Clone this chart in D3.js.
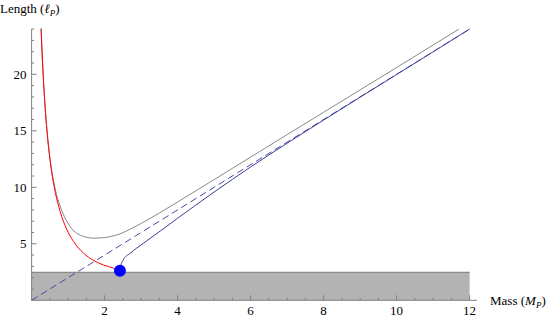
<!DOCTYPE html>
<html>
<head>
  <meta charset="utf-8">
  <script src="https://d3js.org/d3.v7.min.js"></script>
  <style>
    body { margin: 0; background: #ffffff; }
    svg { display: block; }
    text { font-family: 'Liberation Serif', 'DejaVu Serif', serif; fill: #000; }
  </style>
</head>
<body>
  <div id="chart"></div>

  <script>
    // values (mass in M_P, length in l_P)
    const grayMass = [0.26, 0.3, 0.37, 0.45, 0.55, 0.65, 0.78, 0.9, 1.05, 1.2, 1.33, 1.5, 1.69, 1.9, 2.15, 2.4, 2.61, 3.0, 3.5, 4.0, 4.5, 5.0, 6.0, 7.0, 8.0, 9.0, 10.0, 11.0, 11.7];
    const grayLength = [24.1, 21.1, 17.2, 14.1, 11.5, 9.8, 8.35, 7.4, 6.55, 6.02, 5.76, 5.58, 5.5, 5.52, 5.63, 5.85, 6.15, 6.8, 7.72, 8.7, 9.69, 10.68, 12.67, 14.66, 16.64, 18.62, 20.6, 22.59, 23.98];

    const redMass = [0.26, 0.3, 0.37, 0.45, 0.55, 0.65, 0.78, 0.96, 1.15, 1.42, 1.69, 1.97, 2.24, 2.42];
    const redLength = [24.0, 21.0, 17.1, 14.0, 11.36, 9.54, 7.88, 6.3, 5.2, 4.18, 3.55, 3.12, 2.85, 2.62];

    const blueMass = [2.42, 2.44, 2.51, 2.7, 3.06, 3.52, 4.0, 4.5, 5.0, 5.5, 6.0, 7.0, 8.0, 9.0, 10.0, 11.0, 12.0];
    const blueLength = [2.62, 3.0, 3.57, 4.16, 5.04, 6.12, 7.26, 8.43, 9.58, 10.7, 11.8, 13.9, 15.95, 17.97, 19.98, 21.99, 24.0];

    const dashMass = [0, 12];
    const dashLength = [0, 24];

    const bandMass = [0, 12];
    const bandTop = 2.48;
    const dot = { mass: 2.42, length: 2.62 };

    const xTicks = [2, 4, 6, 8, 10, 12];
    const yTicks = [5, 10, 15, 20];

    const width = 550, height = 318;
    const serif = "'Liberation Serif', 'DejaVu Serif', serif";

    const svg = d3.select("#chart")
      .append("svg")
      .attr("width", width)
      .attr("height", height);

    const x = d3.scaleLinear().domain([0, 12]).range([31.6, 469.6]);
    const y = d3.scaleLinear().domain([0, 24]).range([300.3, 29.1]);

    // shaded band
    svg.append("rect")
      .attr("x", x(bandMass[0]))
      .attr("y", y(bandTop))
      .attr("width", x(bandMass[1]) - x(bandMass[0]))
      .attr("height", y(0) - y(bandTop))
      .attr("fill", "#b3b3b3");
    svg.append("line")
      .attr("x1", x(bandMass[0])).attr("x2", x(bandMass[1]))
      .attr("y1", y(bandTop)).attr("y2", y(bandTop))
      .attr("stroke", "#7a7a7a").attr("stroke-width", 1);

    // axes, Mathematica style: ticks pointing inward
    const axisColor = "#808080";
    const xAxis = svg.append("g");
    xAxis.append("line")
      .attr("x1", x(0)).attr("x2", x(12.2))
      .attr("y1", y(0)).attr("y2", y(0))
      .attr("stroke", axisColor);
    xAxis.selectAll(".minor")
      .data(d3.range(0.5, 12.01, 0.5).filter(v => v % 2 !== 0))
      .join("line")
      .attr("x1", d => x(d)).attr("x2", d => x(d))
      .attr("y1", y(0)).attr("y2", y(0) - 2.5)
      .attr("stroke", axisColor);
    xAxis.selectAll(".major")
      .data(xTicks)
      .join("line")
      .attr("x1", d => x(d)).attr("x2", d => x(d))
      .attr("y1", y(0)).attr("y2", y(0) - 5)
      .attr("stroke", axisColor);
    xAxis.selectAll("text")
      .data(xTicks)
      .join("text")
      .attr("font-family", serif)
      .attr("font-size", 13)
      .attr("x", d => x(d))
      .attr("y", y(0) + 15)
      .attr("text-anchor", "middle")
      .text(d => d);

    const yAxis = svg.append("g");
    yAxis.append("line")
      .attr("x1", x(0)).attr("x2", x(0))
      .attr("y1", y(0)).attr("y2", y(24))
      .attr("stroke", axisColor);
    yAxis.selectAll(".minor")
      .data(d3.range(1, 25).filter(v => v % 5 !== 0))
      .join("line")
      .attr("x1", x(0)).attr("x2", x(0) + 2.5)
      .attr("y1", d => y(d)).attr("y2", d => y(d))
      .attr("stroke", axisColor);
    yAxis.selectAll(".major")
      .data(yTicks)
      .join("line")
      .attr("x1", x(0)).attr("x2", x(0) + 5)
      .attr("y1", d => y(d)).attr("y2", d => y(d))
      .attr("stroke", axisColor);
    yAxis.selectAll("text")
      .data(yTicks)
      .join("text")
      .attr("font-family", serif)
      .attr("font-size", 13)
      .attr("x", x(0) - 5)
      .attr("y", d => y(d) + 4.5)
      .attr("text-anchor", "end")
      .text(d => d);

    // curves
    const line = d3.line()
      .x(d => x(d[0]))
      .y(d => y(d[1]))
      .curve(d3.curveMonotoneX);

    const zip = (a, b) => a.map((v, i) => [v, b[i]]);

    svg.append("path")
      .datum(zip(dashMass, dashLength))
      .attr("d", d3.line().x(d => x(d[0])).y(d => y(d[1])))
      .attr("fill", "none")
      .attr("stroke", "#4a4aa8")
      .attr("stroke-width", 1)
      .attr("stroke-dasharray", "7,4");

    svg.append("path")
      .datum(zip(grayMass, grayLength))
      .attr("d", line)
      .attr("fill", "none")
      .attr("stroke", "#888888")
      .attr("stroke-width", 1);

    svg.append("path")
      .datum(zip(redMass, redLength))
      .attr("d", line)
      .attr("fill", "none")
      .attr("stroke", "#ff0000")
      .attr("stroke-width", 1);

    svg.append("path")
      .datum(zip(blueMass, blueLength))
      .attr("d", line)
      .attr("fill", "none")
      .attr("stroke", "#3d3d9e")
      .attr("stroke-width", 1);

    svg.append("circle")
      .attr("cx", x(dot.mass))
      .attr("cy", y(dot.length))
      .attr("r", 6)
      .attr("fill", "#0000ff");

    // axis titles
    const yTitle = svg.append("text")
      .attr("font-family", serif)
      .attr("font-size", 13)
      .attr("x", 0)
      .attr("y", 13);
    yTitle.append("tspan").text("Length (");
    yTitle.append("tspan").attr("font-style", "italic").text("ℓ");
    yTitle.append("tspan").attr("font-style", "italic").attr("font-size", 9).attr("dy", 3).text("P");
    yTitle.append("tspan").attr("dy", -3).text(")");

    const xTitle = svg.append("text")
      .attr("font-family", serif)
      .attr("font-size", 13)
      .attr("x", 490)
      .attr("y", 305);
    xTitle.append("tspan").text("Mass (");
    xTitle.append("tspan").attr("font-style", "italic").text("M");
    xTitle.append("tspan").attr("font-style", "italic").attr("font-size", 9).attr("dy", 3).text("P");
    xTitle.append("tspan").attr("dy", -3).text(")");
  </script>
</body>
</html>
